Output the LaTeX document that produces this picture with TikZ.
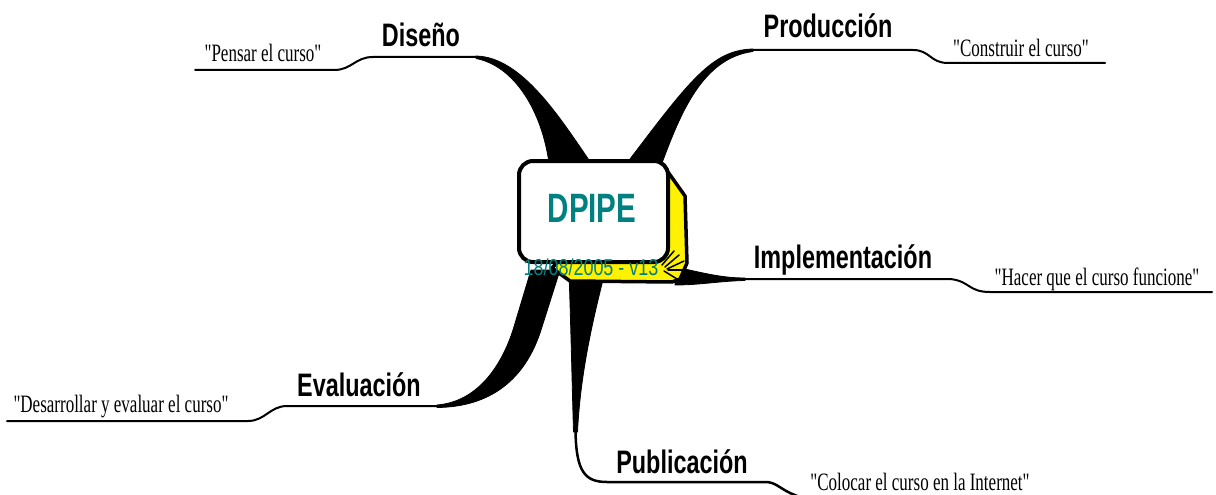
\documentclass[tikz,border=0pt]{standalone}
\usepackage{fontspec}
\setmainfont{Liberation Serif}
\newfontfamily\lblfont[FakeStretch=0.72]{Liberation Sans}
\newfontfamily\subfont[FakeStretch=0.68]{Liberation Serif}
\newfontfamily\datefont[FakeStretch=0.78]{Liberation Sans}
\definecolor{tealc}{RGB}{0,128,128}
\begin{document}
\begin{tikzpicture}[x=1pt,y=-1pt,
  lbl/.style={font={\lblfont\bfseries\fontsize{32.5}{34}\selectfont}, anchor=base, inner sep=0pt},
  sub/.style={font={\subfont\fontsize{25}{27}\selectfont}, anchor=base, inner sep=0pt},
  thinline/.style={line width=2pt, line cap=round, line join=round},
  wedgefill/.style={fill=black, draw=black, line width=0.8pt, line join=round},
  hatch/.style={line width=1.5pt, line cap=round}]
\useasboundingbox (0,0) rectangle (1216,495);

% branch points
\coordinate (d1) at (476,57);  \coordinate (d2) at (373,57);
\coordinate (d3) at (334,70);  \coordinate (d4) at (195,70);
\coordinate (p1) at (753,50);  \coordinate (p2) at (913,50);
\coordinate (p3) at (948,63);  \coordinate (p4) at (1105,63);
\coordinate (i1) at (745,279); \coordinate (i2) at (950,279);
\coordinate (i3) at (990,292); \coordinate (i4) at (1212,292);
\coordinate (e1) at (437,406); \coordinate (e2) at (287,406);
\coordinate (e3) at (248,421); \coordinate (e4) at (7,421);
\coordinate (u0) at (575.5,430);
\coordinate (u1) at (607,482); \coordinate (u2) at (765,482);
\coordinate (u3) at (790,493); \coordinate (u4) at (802,498);

% thick tapering branches
\path[wedgefill] (476,56) .. controls (522,57) and (560,118) .. (591,163)
  -- (549,163) .. controls (542,112) and (515,66) .. (476,58.5) -- cycle;
\path[wedgefill] (753,49) .. controls (712,50) and (690,80) .. (627,163)
  -- (662,163) .. controls (680,115) and (702,58) .. (753,51.5) -- cycle;
\path[wedgefill] (675,267) .. controls (700,272) and (720,278) .. (745,278)
  -- (745,280.5) .. controls (720,281) and (700,285) .. (675,285) -- cycle;
\path[wedgefill] (437,405) .. controls (475,402) and (500,370) .. (513,330)
  -- (531,270) -- (560,270) -- (541,330)
  .. controls (525,380) and (490,407) .. (437,407.5) -- cycle;
\path[wedgefill] (569,272) -- (605,272) .. controls (590,330) and (580,380) .. (577.5,432)
  -- (573.5,432) .. controls (572,380) and (571,330) .. (569,272) -- cycle;

% thin lines
\draw[thinline] (d1) -- (d2) .. controls (355,57) and (352,70) .. (d3) -- (d4);
\draw[thinline] (p1) -- (p2) .. controls (930,50) and (930,63) .. (p3) -- (p4);
\draw[thinline] (i1) -- (i2) .. controls (970,281) and (968,292) .. (i3) -- (i4);
\draw[thinline] (e1) -- (e2) .. controls (270,406) and (265,421) .. (e3) -- (e4);
\draw[thinline, line width=2.5pt] (u0) .. controls (576,472) and (585,482) .. (u1) -- (u2)
  .. controls (775,482) and (778,487) .. (u3) -- (u4);

% central box with 3D side
\filldraw[fill=yellow, draw=black, line width=3.5pt, line join=round]
  (650,161) -- (668,172) -- (685,196) -- (687,263) -- (680,279) -- (672,282) -- (570,281) -- (552,268) -- cycle;
\node[draw=black, fill=white, line width=4pt, rounded corners=14pt,
  minimum width=149pt, minimum height=101pt, inner sep=0pt] (ctr) at (593.5,211.5) {};
\draw[hatch] (662,265) -- (674,251);
\draw[hatch] (665,267) -- (679,255);
\draw[hatch] (667,269) -- (684,261);
\draw[hatch] (664,271) -- (677,279);
\draw[hatch] (668,270) -- (684,270);

\node[font={\lblfont\bfseries\fontsize{41}{43}\selectfont}, text=tealc, anchor=base, inner sep=0pt]
  (title) at (592,222) {DPIPE};
\node[font={\datefont\fontsize{23}{25}\selectfont}, text=tealc, anchor=base, inner sep=0pt]
  (date) at (591,275) {18/08/2005 - v13};

% labels
\node[lbl] (dis) at (421,47) {Diseño};
\node[lbl] (pro) at (828,38) {Producción};
\node[lbl] (imp) at (843,268) {Implementación};
\node[lbl] (eva) at (359,396) {Evaluación};
\node[lbl] (pub) at (682,473) {Publicación};

\node[sub] (sdis) at (263,62) {"Pensar el curso"};
\node[sub] (spro) at (1021,57) {"Construir el curso"};
\node[sub] (simp) at (1097,285) {"Hacer que el curso funcione"};
\node[sub] (seva) at (121,412) {"Desarrollar y evaluar el curso"};
\node[sub] (spub) at (920,490) {"Colocar el curso en la Internet"};
\end{tikzpicture}
\end{document}
